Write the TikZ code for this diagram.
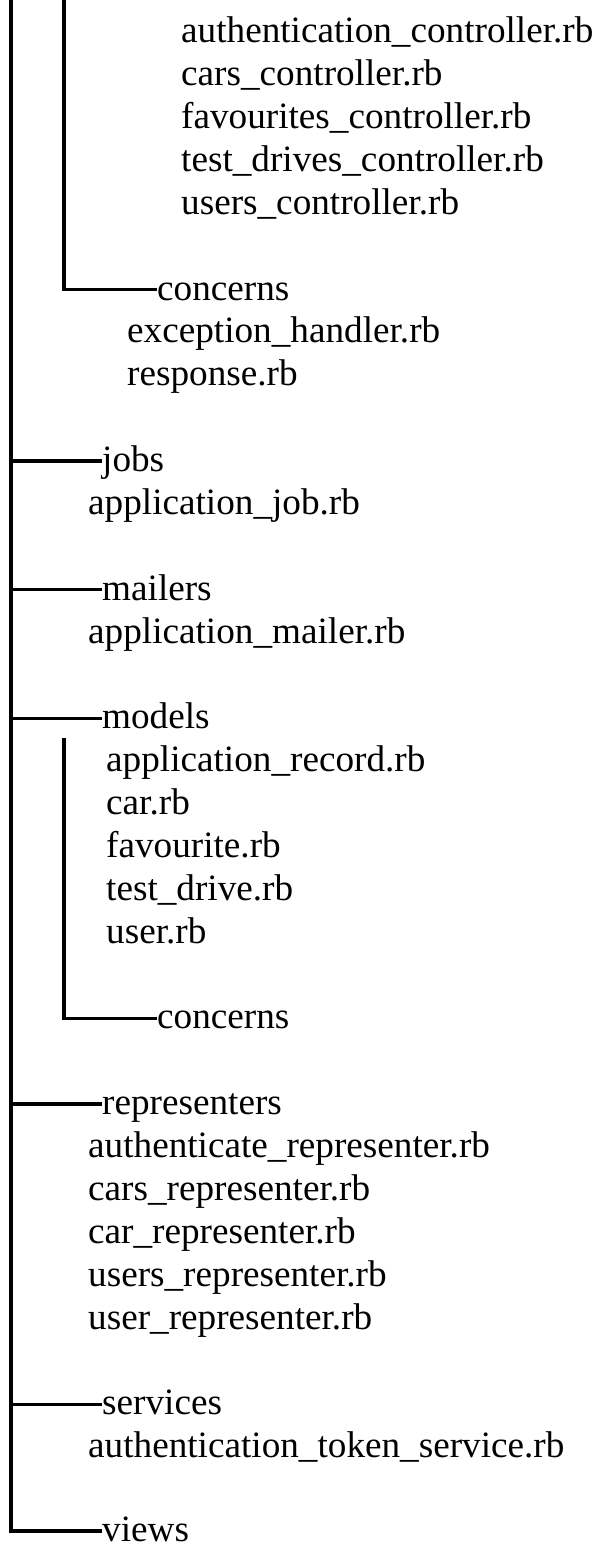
\documentclass[tikz,border=0pt]{standalone}
\usepackage{fontspec}
\setmainfont{Liberation Serif}
\begin{document}
\begin{tikzpicture}[x=1pt,y=-1pt,
  entry/.style={anchor=west,inner sep=0pt,text height=27pt,text depth=6pt,
    font=\fontsize{37.2}{42.8}\selectfont},
  lastentry/.style={entry,text height=21pt,text depth=0pt},
  link/.style={draw=black,line width=3.5pt,line join=miter}]
\useasboundingbox (0,0) rectangle (600,1548);

% controllers
\node[entry] (c1) at (181,32.2)  {authentication\_controller.rb};
\node[entry] (c2) at (181,75.1)  {cars\_controller.rb};
\node[entry] (c3) at (181,118.0) {favourites\_controller.rb};
\node[entry] (c4) at (181,160.8) {test\_drives\_controller.rb};
\node[entry] (c5) at (181,203.7) {users\_controller.rb};
\node[entry] (cc) at (157,289.5) {concerns};
\node[entry] (ce) at (127,332.4) {exception\_handler.rb};
\node[entry] (cr) at (127,375.2) {response.rb};

% jobs, mailers
\node[entry] (jobs) at (102,461.0) {jobs};
\node[entry] (appjob) at (88,503.9) {application\_job.rb};
\node[entry] (mailers) at (102,589.6) {mailers};
\node[entry] (appmailer) at (88,632.5) {application\_mailer.rb};

% models
\node[entry] (models) at (102,718.3) {models};
\node[entry] (m1) at (106,761.2) {application\_record.rb};
\node[entry] (m2) at (106,804.0) {car.rb};
\node[entry] (m3) at (106,846.9) {favourite.rb};
\node[entry] (m4) at (106,889.8) {test\_drive.rb};
\node[entry] (m5) at (106,932.7) {user.rb};
\node[entry] (mc) at (157,1018.4) {concerns};

% representers
\node[entry] (repr) at (102,1104.2) {representers};
\node[entry] (r1) at (88,1147.1) {authenticate\_representer.rb};
\node[entry] (r2) at (88,1190.0) {cars\_representer.rb};
\node[entry] (r3) at (88,1232.8) {car\_representer.rb};
\node[entry] (r4) at (88,1275.7) {users\_representer.rb};
\node[entry] (r5) at (88,1318.6) {user\_representer.rb};

% services, views
\node[entry] (services) at (102,1404.4) {services};
\node[entry] (s1) at (88,1447.2) {authentication\_token\_service.rb};
\node[lastentry] (views) at (102,1531.0) {views};

% tree lines
\coordinate (trunk) at (11,-5);
\coordinate (ctrl) at (64,-5);
\coordinate (mods) at (64,738);
\draw[link] (trunk) |- (views.west);
\foreach \n in {jobs,mailers,models,repr,services}
  \draw[link] (trunk |- \n.west) -- (\n.west);
\draw[link] (ctrl) |- (cc.west);
\draw[link] (mods) |- (mc.west);
\end{tikzpicture}
\end{document}
